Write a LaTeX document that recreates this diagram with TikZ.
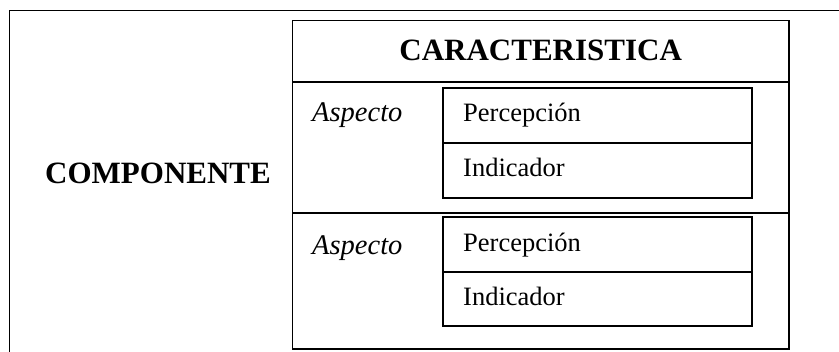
\documentclass[tikz,border=0pt]{standalone}
\usepackage{fontspec}
\setmainfont{Liberation Serif}
\begin{document}
\begin{tikzpicture}[x=1pt,y=-1pt,
  frame/.style={draw=black, line width=1.8pt},
  cell/.style={draw=black, line width=1.8pt, inner sep=0pt},
  big/.style={font=\fontsize{31}{31}\selectfont\bfseries, inner sep=0pt, anchor=base},
  asp/.style={font=\fontsize{28.5}{28.5}\selectfont\itshape, inner sep=0pt, anchor=base west},
  lbl/.style={font=\fontsize{26.5}{26.5}\selectfont, inner sep=0pt, anchor=base west}]
\useasboundingbox (0,0) rectangle (839,352);
\begin{scope}
\clip (0,0) rectangle (839,352);
\draw[frame] (9.5,10.5) rectangle (850,365);
\end{scope}
% inner table
\node[cell, minimum width=496.5pt, minimum height=328.5pt] (tab) at (540.75,184.75) {};
\coordinate (h1) at (292.5,82);
\coordinate (h2) at (789,82);
\draw[frame] (h1) -- (h2);
\coordinate (m1) at (292.5,212.7);
\coordinate (m2) at (789,212.7);
\draw[frame] (m1) -- (m2);
% boxes
\node[cell, minimum width=309.6pt, minimum height=55pt] (p1) at (597.5,115.8) {};
\node[cell, minimum width=309.6pt, minimum height=54.4pt] (i1) at (597.5,170.5) {};
\node[cell, minimum width=309.6pt, minimum height=55pt] (p2) at (597.5,244.2) {};
\node[cell, minimum width=309.6pt, minimum height=54.3pt] (i2) at (597.5,298.85) {};
% texts
\node[big] (car) at (540.7,61) {CARACTERISTICA};
\node[big, anchor=base west] (comp) at (45,184) {COMPONENTE};
\node[asp] (a1) at (312,121.7) {Aspecto};
\node[asp] (a2) at (312,254.3) {Aspecto};
\node[lbl] (tp1) at (463,122) {Percepción};
\node[lbl] (ti1) at (463,176.5) {Indicador};
\node[lbl] (tp2) at (463,252) {Percepción};
\node[lbl] (ti2) at (463,306) {Indicador};
\end{tikzpicture}
\end{document}
